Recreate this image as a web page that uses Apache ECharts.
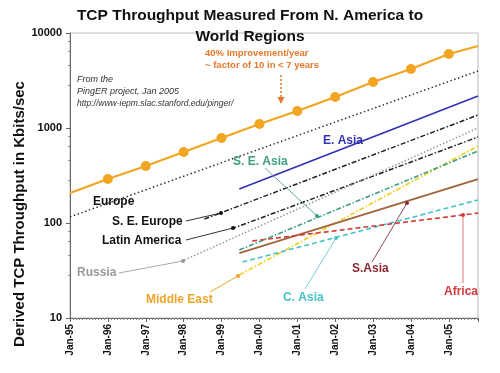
<!DOCTYPE html>
<html>
<head>
<meta charset="utf-8">
<script src="https://cdn.jsdelivr.net/npm/echarts@6/dist/echarts.min.js"></script>
<style>html,body{margin:0;padding:0;background:#fff;}#c{width:500px;height:373px;}</style>
</head>
<body>
<div id="c"></div>
<script>
// ---- data ----
const xTickLabels = ['Jan-95','Jan-96','Jan-97','Jan-98','Jan-99','Jan-00','Jan-01','Jan-02','Jan-03','Jan-04','Jan-05'];
const yTickValues = [10, 100, 1000, 10000];

const trendYears  = [1995, 1996, 1997, 1998, 1999, 2000, 2001, 2002, 2003, 2004, 2005, 2005.77];
const trendValues = [207, 290, 398, 559, 785, 1100, 1510, 2120, 3050, 4180, 6010, 7300];

const europeYears = [1995, 2005.77];
const europeValues = [116, 3980];
const eAsiaYears = [1999.47, 2005.77];
const eAsiaValues = [228, 2170];
const seEuropeYears = [1998.55, 2005.77];
const seEuropeValues = [110, 1371];
const latinAmericaYears = [1999.26, 2005.77];
const latinAmericaValues = [86.5, 804];
const russiaYears = [1998.02, 2005.77];
const russiaValues = [40.8, 1000];
const middleEastYears = [1999.47, 2005.77];
const middleEastValues = [28.4, 646];
const seAsiaYears = [1999.47, 2005.77];
const seAsiaValues = [52, 573];
const sAsiaYears = [1999.47, 2005.77];
const sAsiaValues = [48.3, 290];
const cAsiaYears = [1999.55, 2005.77];
const cAsiaValues = [38.8, 175];
const africaYears = [1999.81, 2005.77];
const africaValues = [64.6, 127];

function pairs(xs, ys) { return xs.map((x, i) => [x, ys[i]]); }

const chart = echarts.init(document.getElementById('c'), null, {renderer: 'canvas'});
const FONT = 'Arial, "Liberation Sans", sans-serif';

function lineSeries(name, xs, ys, color, type, width, z) {
  return {
    name: name, type: 'line', data: pairs(xs, ys), showSymbol: false, symbol: 'none',
    lineStyle: {color: color, type: type, width: width}, z: z || 2, animation: false
  };
}

const trendData = trendYears.map((y, i) => ({
  value: [y, trendValues[i]],
  symbolSize: (i === 0 || i === trendYears.length - 1) ? 0 : 10
}));

const boldLbl = (t, x, y, color, align) => ({
  type: 'text', x: x, y: y, z: 50,
  style: {text: t, fill: color, font: 'bold 12px ' + FONT, align: align || 'left', verticalAlign: 'middle'}
});
const ptr = (x1, y1, x2, y2, color) => ({
  type: 'line', z: 40, shape: {x1: x1, y1: y1, x2: x2, y2: y2}, style: {stroke: color, lineWidth: 1}
});
const dot = (x, y, color) => ({
  type: 'circle', z: 41, shape: {cx: x, cy: y, r: 2}, style: {fill: color}
});

const option = {
  animation: false,
  backgroundColor: '#fff',
  title: {
    text: 'TCP Throughput Measured From N. America to\nWorld Regions',
    left: 'center', top: 0,
    textStyle: {fontFamily: FONT, fontWeight: 'bold', fontSize: 15.5, color: '#111', lineHeight: 21}
  },
  grid: {left: 70, right: 22, top: 33, bottom: 55, show: true, borderColor: '#bbb', borderWidth: 1},
  xAxis: {
    type: 'value', min: 1995, max: 2005.77, interval: 1,
    axisLine: {show: true, lineStyle: {color: '#666', width: 1}},
    axisTick: {show: true, length: 4, lineStyle: {color: '#666'}},
    minorTick: {show: true, splitNumber: 12, length: 2, lineStyle: {color: '#888'}},
    splitLine: {show: false},
    axisLabel: {
      rotate: 90, fontSize: 10, fontWeight: 'bold', color: '#111', margin: 6,
      fontFamily: FONT, showMaxLabel: false,
      formatter: v => { const k = Math.round(v - 1995); return Math.abs(v - 1995 - k) < 1e-6 && xTickLabels[k] ? xTickLabels[k] : ''; }
    }
  },
  yAxis: {
    type: 'log', logBase: 10, min: 10, max: 10000,
    axisLine: {show: true, lineStyle: {color: '#666', width: 1}},
    axisTick: {show: true, length: 4, lineStyle: {color: '#666'}},
    minorTick: {show: true, splitNumber: 5, length: 2, lineStyle: {color: '#888'}},
    splitLine: {show: false},
    axisLabel: {
      fontSize: 11, fontWeight: 'bold', color: '#111', margin: 8,
      fontFamily: FONT,
      formatter: v => yTickValues.indexOf(Math.round(v)) >= 0 ? String(Math.round(v)) : ''
    }
  },
  series: [
    lineSeries('Europe', europeYears, europeValues, '#333', [1.5, 2.5], 1.5),
    lineSeries('E. Asia', eAsiaYears, eAsiaValues, '#3232B4', 'solid', 1.8),
    lineSeries('S. E. Europe', seEuropeYears, seEuropeValues, '#222', [5, 2, 1.5, 2], 1.5),
    lineSeries('Latin America', latinAmericaYears, latinAmericaValues, '#222', [5, 2, 1.5, 2], 1.5),
    lineSeries('Russia', russiaYears, russiaValues, '#999', [1.5, 2], 1.5),
    lineSeries('Middle East', middleEastYears, middleEastValues, '#F2D22A', [5, 2, 1.5, 2], 1.8),
    lineSeries('S. E. Asia', seAsiaYears, seAsiaValues, '#3E9E82', [5, 2, 1.5, 2], 1.6),
    lineSeries('S. Asia', sAsiaYears, sAsiaValues, '#A0643A', 'solid', 1.8),
    lineSeries('C. Asia', cAsiaYears, cAsiaValues, '#44C2C8', [5, 3], 1.6),
    lineSeries('Africa', africaYears, africaValues, '#D43A3A', [5, 3], 1.6),
    {
      name: 'Trend', type: 'line', data: trendData, symbol: 'circle', showSymbol: true,
      itemStyle: {color: '#F2A521'}, lineStyle: {color: '#F2A521', width: 2.2}, z: 5, animation: false
    }
  ],
  graphic: [
    {type: 'text', x: 20, y: 214, rotation: Math.PI / 2, z: 50,
     style: {text: 'Derived TCP Throughput in Kbits/sec', fill: '#111', font: 'bold 15px ' + FONT, align: 'center', verticalAlign: 'middle'}},
    {type: 'text', x: 205, y: 53, z: 50, style: {text: '40% Improvement/year', fill: '#E5782A', font: 'bold 9.5px ' + FONT, verticalAlign: 'middle'}},
    {type: 'text', x: 205, y: 65, z: 50, style: {text: '~ factor of 10 in < 7 years', fill: '#E5782A', font: 'bold 9.5px ' + FONT, verticalAlign: 'middle'}},
    {type: 'line', z: 40, shape: {x1: 281, y1: 75, x2: 281, y2: 98}, style: {stroke: '#E5782A', lineWidth: 1.5, lineDash: [2, 2]}},
    {type: 'polygon', z: 40, shape: {points: [[277.5, 97], [284.5, 97], [281, 104]]}, style: {fill: '#E5782A'}},
    {type: 'text', x: 77, y: 79, z: 50, style: {text: 'From the', fill: '#333', font: 'italic 9px ' + FONT, verticalAlign: 'middle'}},
    {type: 'text', x: 77, y: 91, z: 50, style: {text: 'PingER project, Jan 2005', fill: '#333', font: 'italic 9px ' + FONT, verticalAlign: 'middle'}},
    {type: 'text', x: 77, y: 104, z: 50, style: {text: 'http://www-iepm.slac.stanford.edu/pinger/', fill: '#333', font: 'italic 8.5px ' + FONT, verticalAlign: 'middle'}},
    boldLbl('E. Asia', 323, 141, '#3232B4'),
    boldLbl('S. E. Asia', 233, 162, '#3E9E82'),
    boldLbl('Europe', 93, 202, '#111'),
    boldLbl('S. E. Europe', 112, 222, '#111'),
    boldLbl('Latin America', 102, 241, '#111'),
    boldLbl('Russia', 77, 273, '#9a9a9a'),
    boldLbl('Middle East', 146, 300, '#EDA52A'),
    boldLbl('S.Asia', 352, 269, '#8C2A32'),
    boldLbl('C. Asia', 283, 298, '#44C2C8'),
    boldLbl('Africa', 444, 292, '#D43A3A'),
    ptr(265, 168, 317, 216, '#6AA898'), dot(317, 216, '#3E9E82'),
    ptr(186, 221, 221, 213, '#333'), dot(221, 213, '#111'),
    ptr(186, 240, 233, 228, '#333'), dot(233, 228, '#111'),
    ptr(119, 273, 183, 261, '#aaa'), dot(183, 261, '#999'),
    ptr(210, 292, 238, 276, '#EDA52A'), dot(238, 276, '#EDA52A'),
    ptr(372, 262, 407, 203, '#8C4A52'), dot(407, 203, '#8C2A32'),
    ptr(305, 289, 336, 238, '#7ad0d4'), dot(336, 238, '#44C2C8'),
    ptr(463, 283, 463, 215, '#E07a7a'), dot(463, 215, '#D43A3A')
  ]
};
chart.setOption(option);
</script>
</body>
</html>
